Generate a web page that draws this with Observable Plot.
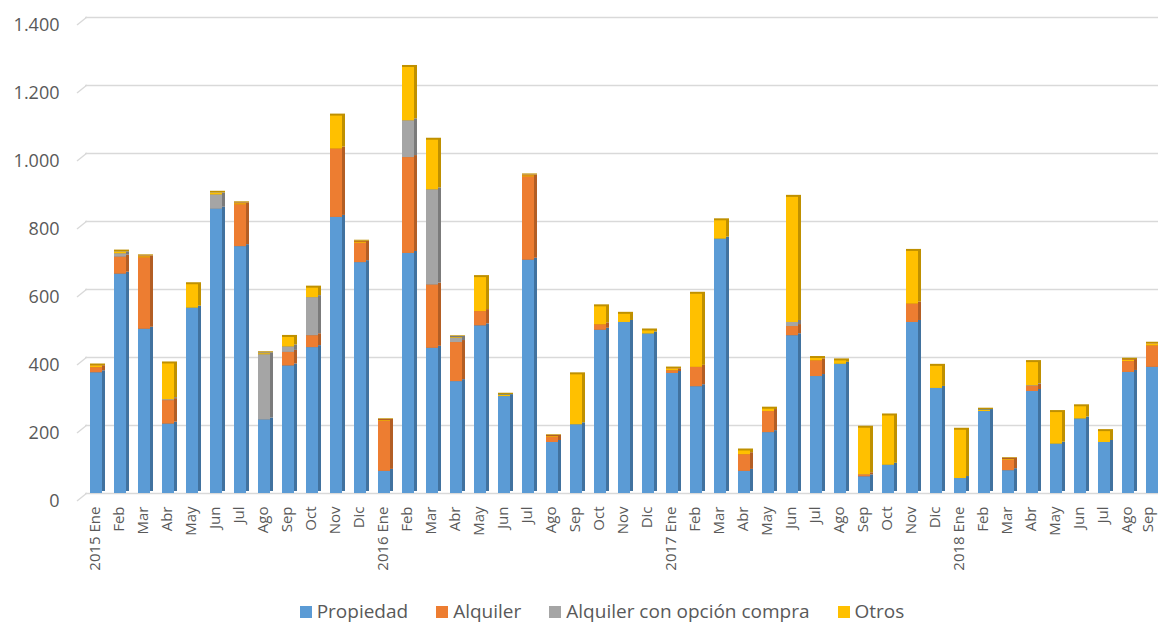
<!DOCTYPE html>
<html>
<head>
<meta charset="utf-8">
<script src="https://cdn.jsdelivr.net/npm/d3@7"></script>
<script src="https://cdn.jsdelivr.net/npm/@observablehq/plot@0.6"></script>
<style>
  body { margin: 0; background: #fff; font-family: "Open Sans", sans-serif; }
  #chart svg { display: block; }
  #legend { width: 1158px; height: 26px; line-height: 26px; text-align: center; padding-left: 46px; box-sizing: border-box; color: #595959; font-size: 19px; white-space: nowrap; }
  #legend span.item { margin: 0 14px; }
  #legend span.sw { display: inline-block; width: 12px; height: 12px; margin-right: 5px; vertical-align: 0px; }
</style>
</head>
<body>
<div id="chart"></div>
<div id="legend"></div>
<script>
// Tick labels (categories)
const labels = [
  "2015 Ene","Feb","Mar","Abr","May","Jun","Jul","Ago","Sep","Oct","Nov","Dic",
  "2016 Ene","Feb","Mar","Abr","May","Jun","Jul","Ago","Sep","Oct","Nov","Dic",
  "2017 Ene","Feb","Mar","Abr","May","Jun","Jul","Ago","Sep","Oct","Nov","Dic",
  "2018 Ene","Feb","Mar","Abr","May","Jun","Jul","Ago","Sep"
];

const seriesNames = ["Propiedad", "Alquiler", "Alquiler con opción compra", "Otros"];

const propiedad = [
  355, 645, 483, 204, 545, 836, 726, 216, 375, 429, 812, 679,
  65, 706, 427, 329, 493, 285, 686, 150, 202, 480, 503, 469,
  353, 314, 748, 65, 179, 464, 344, 380, 49, 83, 503, 309,
  44, 241, 67, 300, 145, 219, 150, 356, 371
];
const alquiler = [
  15, 50, 210, 69, 0, 0, 123, 0, 40, 35, 201, 57,
  147, 282, 186, 115, 42, 0, 245, 15, 0, 16, 0, 0,
  8, 57, 0, 49, 62, 27, 46, 0, 6, 0, 54, 0,
  0, 0, 31, 15, 0, 0, 0, 32, 63
];
const alquilerOpcion = [
  0, 10, 0, 3, 0, 42, 0, 192, 16, 112, 0, 0,
  0, 108, 280, 12, 0, 0, 0, 0, 0, 0, 0, 0,
  0, 0, 0, 0, 0, 12, 0, 0, 0, 0, 0, 0,
  0, 0, 0, 2, 0, 0, 0, 0, 0
];
const otros = [
  5, 5, 3, 105, 69, 5, 3, 3, 28, 28, 97, 3,
  2, 157, 146, 2, 100, 4, 3, 2, 147, 53, 24, 9,
  5, 215, 54, 11, 7, 368, 7, 10, 137, 145, 155, 65,
  142, 4, 2, 68, 93, 36, 32, 4, 5
];

const yTicks = [0, 200, 400, 600, 800, 1000, 1200, 1400];

const seriesValues = [propiedad, alquiler, alquilerOpcion, otros];
const frontColors = ["#5B9BD5", "#ED7D31", "#A5A5A5", "#FFC000"];
const sideColors  = ["#41729F", "#B35E24", "#7B7B7B", "#BF9000"];

const data = [];
seriesNames.forEach((s, si) => {
  seriesValues[si].forEach((v, i) => data.push({key: i, series: s, si, value: v}));
});

const fmt = d3.formatLocale({decimal: ",", thousands: ".", grouping: [3], currency: ["", ""]}).format(",d");

const n = labels.length;
const axisStyle = {tickFormat: i => labels[i], tickRotate: -90, tickSize: 0, tickPadding: 13, fontSize: 15, label: null};

const W = 1158, H = 598, ML = 85;
const chart = Plot.plot({
  width: W,
  height: H,
  marginTop: 17,
  marginBottom: H - 493,
  marginLeft: ML,
  marginRight: 0,
  style: {fontFamily: "'Open Sans', sans-serif", color: "#595959", background: "white", overflow: "hidden"},
  x: {domain: d3.range(n), range: [88, 1162], paddingInner: 0.375, paddingOuter: 0, align: 0.5},
  y: {domain: [0, 1400]},
  color: {type: "identity"},
  marks: [
    Plot.ruleY(yTicks, {stroke: "#d9d9d9", strokeWidth: 1.5}),
    Plot.barY(data, {x: "key", y: "value", z: "series", fill: d => sideColors[d.si], dy: -2}),
    Plot.barY(data, {x: "key", y: "value", z: "series", fill: d => frontColors[d.si], insetRight: 3}),
    Plot.axisY(yTicks, {tickFormat: fmt, tickSize: 0, tickPadding: 26, fontSize: 18, label: null, dy: 8}),
    Plot.axisX(d3.range(n - 1), {...axisStyle, dx: -3}),
    Plot.axisX([n - 1], {...axisStyle, dx: -6})
  ]
});

// small perspective segments at the left end of each gridline (3D floor look), placed with Plot's y scale
const yScale = chart.scale("y");
const svg = d3.select(chart.tagName.toLowerCase() === "svg" ? chart : chart.querySelector("svg"));
const gp = svg.insert("g", ":first-child").attr("stroke", "#d9d9d9").attr("stroke-width", 1.5).attr("fill", "none");
yTicks.forEach(v => {
  const y = yScale.apply(v);
  gp.append("path").attr("d", `M${ML - 8},${y + 8}L${ML + 2},${y}`);
});

document.getElementById("chart").appendChild(chart);

const legend = document.getElementById("legend");
seriesNames.forEach((s, si) => {
  const item = document.createElement("span");
  item.className = "item";
  const sw = document.createElement("span");
  sw.className = "sw";
  sw.style.background = frontColors[si];
  item.appendChild(sw);
  item.appendChild(document.createTextNode(s));
  legend.appendChild(item);
});
</script>
</body>
</html>
